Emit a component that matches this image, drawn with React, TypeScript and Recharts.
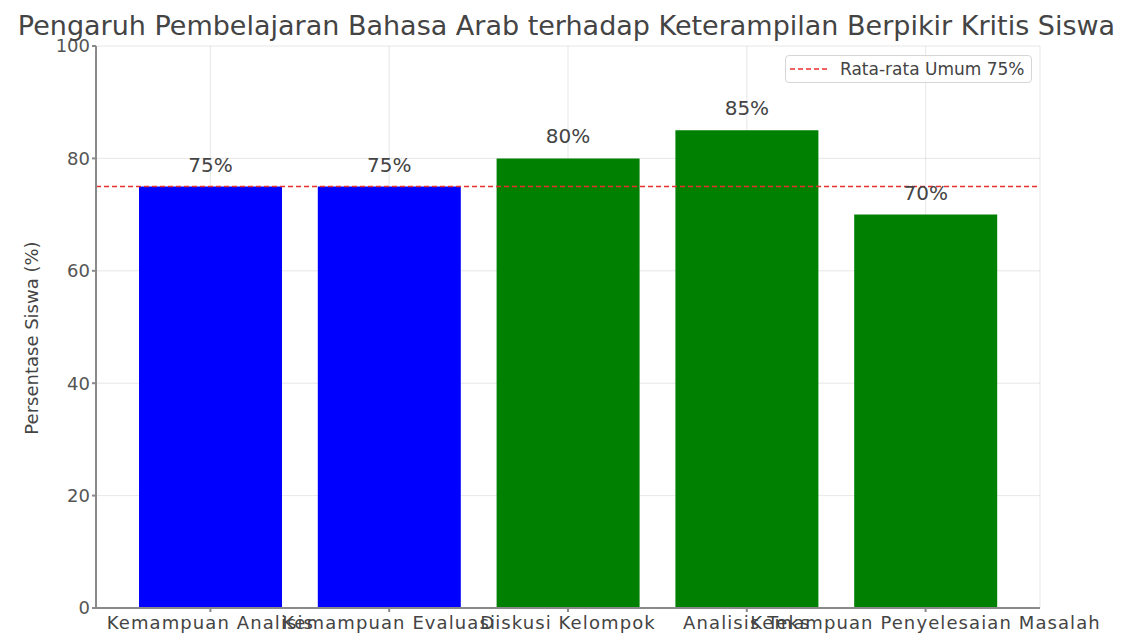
import React from "react";
import { BarChart, Bar, XAxis, YAxis, CartesianGrid, ReferenceLine, LabelList, Cell } from "recharts";

const categories = [
  "Kemampuan Analisis",
  "Kemampuan Evaluasi",
  "Diskusi Kelompok",
  "Analisis Teks",
  "Kemampuan Penyelesaian Masalah",
];
const values = [75, 75, 80, 85, 70];
const barColors = ["#0000ff", "#0000ff", "#008000", "#008000", "#008000"];
const yTicks = [0, 20, 40, 60, 80, 100];
const average = 75;

const data = categories.map((name, i) => ({ name, value: values[i] }));

const FONT = "'DejaVu Sans', sans-serif";

function LegendBox() {
  return (
    <div
      style={{
        position: "absolute",
        left: 785,
        top: 55,
        display: "flex",
        alignItems: "center",
        border: "1px solid #d6d6d6",
        borderRadius: 4,
        background: "rgba(255,255,255,0.85)",
        padding: "2px 6px 2px 4px",
        fontFamily: FONT,
        fontSize: 17,
        lineHeight: "22px",
        color: "#444",
        zIndex: 2,
      }}
    >
      <svg width={40} height={10} style={{ marginRight: 10 }}>
        <line x1={0} y1={5} x2={40} y2={5} stroke="#e8302e" strokeWidth={1.5} strokeDasharray="5 3" />
      </svg>
      Rata-rata Umum 75%
    </div>
  );
}

export default function App() {
  return (
    <div style={{ position: "relative", width: 1123, height: 637, background: "#fff", fontFamily: FONT }}>
      <style>{`body{margin:0}`}</style>
      <div
        style={{
          position: "absolute",
          left: 0,
          top: 10,
          width: 1133,
          textAlign: "center",
          fontSize: 27,
          color: "#444",
          lineHeight: "32px",
          zIndex: 2,
          whiteSpace: "nowrap",
        }}
      >
        Pengaruh Pembelajaran Bahasa Arab terhadap Keterampilan Berpikir Kritis Siswa
      </div>
      <LegendBox />
      <BarChart
        width={1123}
        height={637}
        data={data}
        margin={{ top: 46, right: 83, bottom: 0, left: 40 }}
        barSize={143}
      >
        <XAxis
          dataKey="name"
          height={29}
          padding={{ left: 25, right: 25 }}
          interval={0}
          tickSize={4}
          tickMargin={4}
          stroke="#8a8a8a"
          strokeWidth={2}
          tick={{ fontSize: 18, fill: "#444", fontFamily: FONT, letterSpacing: 1.1 }}
        />
        <YAxis
          domain={[0, 100]}
          ticks={yTicks}
          width={56}
          tickSize={4}
          tickMargin={2}
          stroke="#8a8a8a"
          strokeWidth={2}
          tick={{ fontSize: 18, fill: "#555", fontFamily: FONT }}
          label={{
            content: () => (
              <text
                x={38}
                y={338}
                transform="rotate(-90 38 338)"
                textAnchor="middle"
                fontSize={18}
                fill="#444"
                fontFamily={FONT}
              >
                Persentase Siswa (%)
              </text>
            ),
          }}
        />
        <Bar dataKey="value" isAnimationActive={false}>
          {data.map((_, i) => (
            <Cell key={i} fill={barColors[i]} />
          ))}
          <LabelList
            dataKey="value"
            position="top"
            offset={15}
            formatter={(v: number) => `${v}%`}
            style={{ fontSize: 20, fill: "#444", fontFamily: FONT }}
          />
        </Bar>
        <CartesianGrid stroke="#b0b0b0" strokeOpacity={0.3} />
        <ReferenceLine y={average} stroke="#e8302e" strokeWidth={1.5} strokeDasharray="5 3" />
      </BarChart>
    </div>
  );
}
